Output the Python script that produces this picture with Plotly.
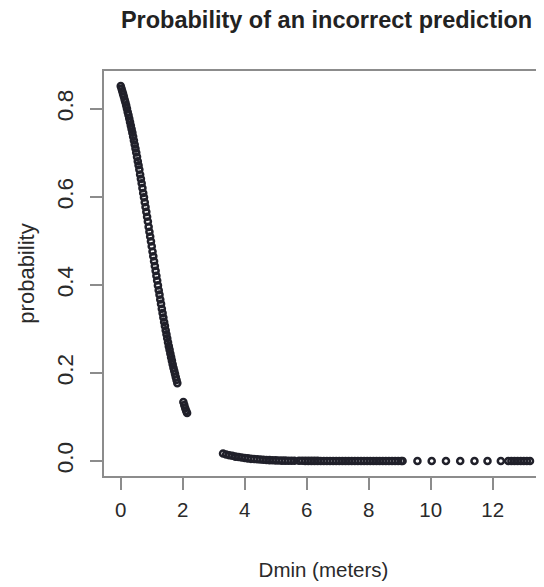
import plotly.graph_objects as go

# ---- data ----
# segment 1: steep decline (Dmin 0 .. ~2.15 m)
x_seg1 = [0.000, 0.025, 0.050, 0.075, 0.100, 0.125, 0.150, 0.175, 0.200, 0.225,
          0.250, 0.275, 0.300, 0.325, 0.350, 0.375, 0.400, 0.425, 0.450, 0.475,
          0.500, 0.525, 0.550, 0.575, 0.600, 0.625, 0.650, 0.675, 0.700, 0.725,
          0.750, 0.775, 0.800, 0.825, 0.850, 0.875, 0.900, 0.925, 0.950, 0.975,
          1.000, 1.025, 1.050, 1.075, 1.100, 1.125, 1.150, 1.175, 1.200, 1.225,
          1.250, 1.275, 1.300, 1.325, 1.350, 1.375, 1.400, 1.425, 1.450, 1.475,
          1.500, 1.525, 1.550, 1.575, 1.600, 1.625, 1.650, 1.675, 1.700, 1.725,
          1.750, 1.775, 1.800, 1.825,
          2.020, 2.050, 2.080, 2.110, 2.140]
y_seg1 = [0.852, 0.846, 0.840, 0.834, 0.828, 0.821, 0.815, 0.808, 0.801, 0.793,
          0.786, 0.778, 0.770, 0.762, 0.754, 0.746, 0.737, 0.728, 0.719, 0.710,
          0.701, 0.691, 0.681, 0.672, 0.662, 0.651, 0.641, 0.631, 0.620, 0.609,
          0.599, 0.588, 0.577, 0.566, 0.555, 0.544, 0.532, 0.521, 0.510, 0.499,
          0.488, 0.476, 0.465, 0.454, 0.443, 0.432, 0.421, 0.410, 0.399, 0.388,
          0.378, 0.367, 0.357, 0.346, 0.336, 0.326, 0.316, 0.307, 0.297, 0.288,
          0.279, 0.270, 0.261, 0.253, 0.244, 0.236, 0.228, 0.220, 0.212, 0.205,
          0.198, 0.191, 0.184, 0.177,
          0.134, 0.127, 0.120, 0.114, 0.109]

# segment 2: long tail near zero (Dmin ~3.3 .. ~9.1 m)
x_seg2 = [3.30, 3.40, 3.50, 3.60, 3.70, 3.80, 3.90, 4.00, 4.10, 4.20,
          4.30, 4.40, 4.50, 4.60, 4.70, 4.80, 4.90, 5.00, 5.10, 5.20,
          5.30, 5.40, 5.50, 5.60,
          5.75, 5.85, 5.95, 6.05, 6.15, 6.25, 6.35, 6.45, 6.55, 6.65,
          6.75, 6.85, 6.95, 7.05, 7.15, 7.25, 7.35, 7.45, 7.55, 7.65,
          7.75, 7.85, 7.95, 8.05, 8.15, 8.25, 8.35, 8.45, 8.55, 8.65,
          8.75, 8.85, 8.95, 9.05, 9.09]
y_seg2 = [0.017, 0.015, 0.013, 0.012, 0.010, 0.009, 0.008, 0.007, 0.006, 0.005,
          0.0045, 0.004, 0.0035, 0.003, 0.0025, 0.002, 0.0018, 0.0015, 0.0012, 0.001,
          0.0009, 0.0008, 0.0007, 0.0006,
          0.0005, 0.0005, 0.0004, 0.0004, 0.0003, 0.0003, 0.0003, 0.0002, 0.0002, 0.0002,
          0.0002, 0.0002, 0.0001, 0.0001, 0.0001, 0.0001, 0.0001, 0.0001, 0.0001, 0.0001,
          0.0001, 0.0001, 0.0001, 0.0, 0.0, 0.0, 0.0, 0.0, 0.0, 0.0,
          0.0, 0.0, 0.0, 0.0, 0.0]

# segment 3: sparse points and a last cluster (Dmin ~9.6 .. ~13.2 m)
x_seg3 = [9.57, 10.03, 10.49, 10.95, 11.41, 11.83, 12.26,
          12.50, 12.60, 12.70, 12.80, 12.90, 13.00, 13.10, 13.20]
y_seg3 = [0.0, 0.0, 0.0, 0.0, 0.0, 0.0, 0.0,
          0.0, 0.0, 0.0, 0.0, 0.0, 0.0, 0.0, 0.0]

x_ticks = [0, 2, 4, 6, 8, 10, 12]
y_ticks = [0.0, 0.2, 0.4, 0.6, 0.8]
y_tick_labels = ["0.0", "0.2", "0.4", "0.6", "0.8"]

title_text = "Probability of an incorrect prediction"
x_title = "Dmin (meters)"
y_title = "probability"

# ---- figure ----
xs = x_seg1 + x_seg2 + x_seg3
ys = y_seg1 + y_seg2 + y_seg3

FONT = "Liberation Sans, Arial, Helvetica, sans-serif"
AX_GRAY = "#8c8c8c"
TXT = "#2a2a2a"
PT = "#20202a"

# the page body adds an 8px offset, so the figure is sized to the visible area
W, H = 536, 579

fig = go.Figure()
fig.add_trace(go.Scatter(
    x=xs, y=ys, mode="markers",
    marker=dict(symbol="circle-open", size=6, color=PT,
                line=dict(width=2.6, color=PT)),
    showlegend=False, hoverinfo="x+y",
))

fig.update_layout(
    width=W, height=H,
    margin=dict(l=96, r=1, t=63, b=111, autoexpand=False),
    paper_bgcolor="white", plot_bgcolor="white",
    font=dict(family=FONT, color=TXT, size=20),
    title=dict(text="<b>" + title_text + "</b>", x=0.507, xref="paper", xanchor="center",
               y=1 - 12 / H, yref="container", yanchor="middle",
               font=dict(size=23.5, color="#222222")),
)

fig.update_xaxes(
    range=[-0.54, 13.62], tickvals=x_ticks, ticktext=[str(v) for v in x_ticks],
    showgrid=False, zeroline=False, automargin=False,
    showline=True, mirror=True, linecolor=AX_GRAY, linewidth=2,
    ticks="outside", ticklen=12, tickwidth=1.5, tickcolor=AX_GRAY,
    ticklabelstandoff=2,
    tickfont=dict(size=20.5, color=TXT),
    title=dict(text=x_title, font=dict(size=20.5, color=TXT), standoff=43),
)
fig.update_yaxes(
    range=[-0.034, 0.886], tickvals=y_ticks, ticktext=y_tick_labels,
    showgrid=False, zeroline=False, automargin=False,
    showline=True, mirror=True, linecolor=AX_GRAY, linewidth=2,
    ticks="outside", ticklen=12, tickwidth=1.5, tickcolor=AX_GRAY,
    tickangle=-90, ticklabelstandoff=8,
    tickfont=dict(size=22.5, color=TXT),
    title=dict(text=y_title, font=dict(size=22, color=TXT), standoff=12),
)

fig.write_html("out.html")
